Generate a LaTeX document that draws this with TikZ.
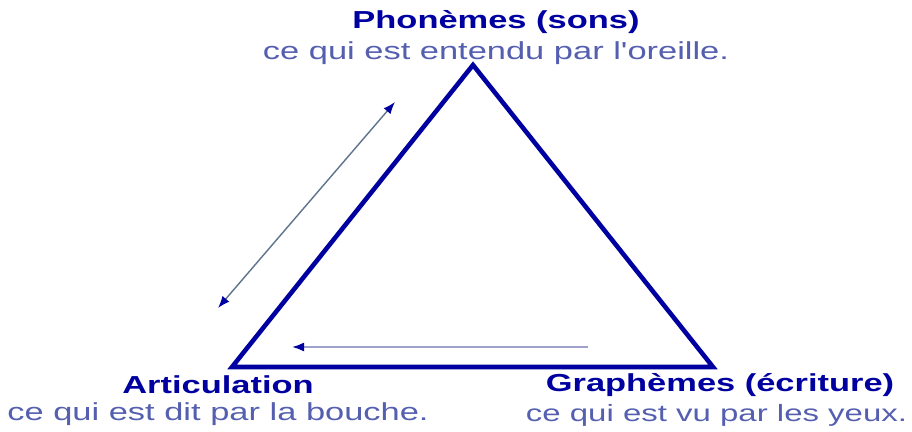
\documentclass[tikz,border=0pt]{standalone}
\usepackage{fontspec}
\setmainfont{Liberation Sans}
\newfontfamily\widefont[FakeStretch=1.4]{Liberation Sans}
\usepackage{xcolor}
\usepackage{tikz}
\usetikzlibrary{arrows.meta,positioning,calc}

\definecolor{tridark}{RGB}{0,0,160}
\definecolor{subblue}{RGB}{85,95,175}
\definecolor{linkgray}{RGB}{95,115,140}
\definecolor{backline}{RGB}{160,160,205}

\begin{document}
\begin{tikzpicture}[
    >=Latex,
    title/.style={font=\widefont\fontsize{14}{16}\selectfont\bfseries, text=tridark, inner sep=0pt},
    subtitle/.style={font=\widefont\fontsize{14}{16}\selectfont, text=subblue, inner sep=0pt},
    side/.style={draw=tridark, line width=2.6pt, line join=miter}
]
\useasboundingbox (0,0) rectangle (18.24,8.64);

% corners of the triangle
\coordinate (apex) at (9.46,7.34);
\coordinate (left) at (4.64,1.30);
\coordinate (right) at (14.26,1.30);
\draw[side] (apex) -- (right) -- (left) -- cycle;

% arrows
\coordinate (dlo) at (4.36,2.48);
\coordinate (dhi) at (7.90,6.60);
\draw[linkgray, line width=0.8pt, {Latex[length=2.4mm,width=1.8mm,color=tridark]}-{Latex[length=2.4mm,width=1.8mm,color=tridark]}] (dlo) -- (dhi);
\coordinate (hstart) at (11.76,1.70);
\coordinate (hend) at (5.84,1.70);
\draw[backline, line width=1pt, -{Latex[length=2.4mm,width=1.8mm,color=tridark]}] (hstart) -- (hend);

% labels
\node[title] (phon) at (9.92,8.20) {Phonèmes (sons)};
\node[subtitle, below=1.5mm of phon] (phonsub) {ce qui est entendu par l'oreille.};
\node[title] (graph) at (14.40,0.94) {Graphèmes (écriture)};
\node[title] (artic) at (4.36,0.94) {Articulation};
\node[subtitle, below=1.5mm of artic] (articsub) {ce qui est dit par la bouche.};
\node[subtitle, font=\widefont\fontsize{13.4}{16}\selectfont, below=1.5mm of graph.south, anchor=north, xshift=-0.7mm] (graphsub) {ce qui est vu par les yeux.};
\end{tikzpicture}
\end{document}
